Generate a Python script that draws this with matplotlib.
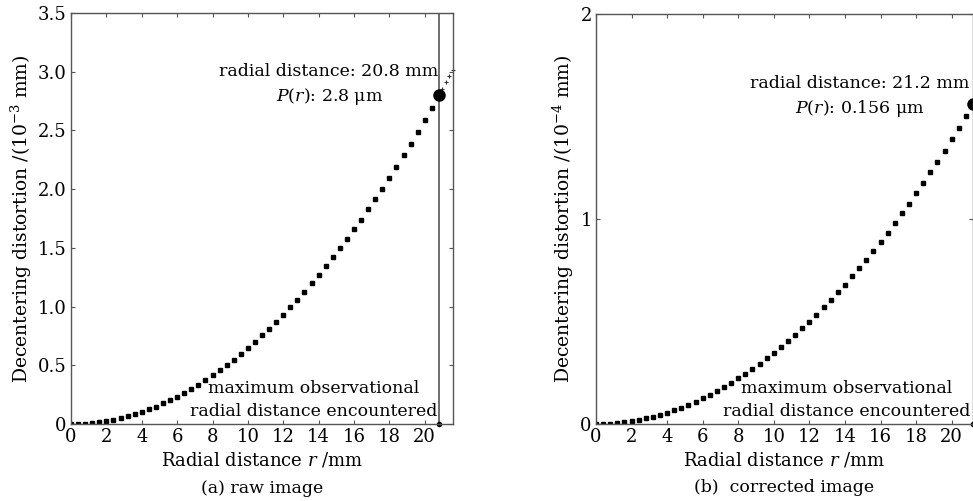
import matplotlib
matplotlib.use("Agg")
import matplotlib.pyplot as plt

plt.rcParams['font.family'] = ['DejaVu Serif']
plt.rcParams['mathtext.fontset'] = 'dejavuserif'

# ---- data (a) raw image, units 1e-3 mm ----
r_a = [0.0, 0.4, 0.8, 1.2, 1.6, 2.0, 2.4, 2.8, 3.2, 3.6, 4.0, 4.4, 4.8, 5.2, 5.6,
       6.0, 6.4, 6.8, 7.2, 7.6, 8.0, 8.4, 8.8, 9.2, 9.6, 10.0, 10.4, 10.8, 11.2,
       11.6, 12.0, 12.4, 12.8, 13.2, 13.6, 14.0, 14.4, 14.8, 15.2, 15.6, 16.0,
       16.4, 16.8, 17.2, 17.6, 18.0, 18.4, 18.8, 19.2, 19.6, 20.0, 20.4, 20.8]
p_a = [0.000, 0.001, 0.004, 0.009, 0.017, 0.026, 0.037, 0.051, 0.066, 0.084,
       0.104, 0.125, 0.149, 0.175, 0.203, 0.233, 0.265, 0.299, 0.336, 0.374,
       0.414, 0.457, 0.501, 0.548, 0.596, 0.647, 0.700, 0.755, 0.812, 0.871,
       0.932, 0.995, 1.060, 1.128, 1.197, 1.268, 1.342, 1.418, 1.495, 1.575,
       1.657, 1.741, 1.827, 1.915, 2.005, 2.097, 2.191, 2.287, 2.386, 2.486,
       2.589, 2.693, 2.800]
r_a_ext = [21.0, 21.2, 21.4, 21.6]
p_a_ext = [2.854, 2.909, 2.964, 3.019]
r_a_max = 20.8
p_a_max = 2.8

# ---- data (b) corrected image, units 1e-4 mm ----
r_b = list(r_a)
p_b = [0.000, 0.001, 0.002, 0.005, 0.009, 0.014, 0.020, 0.027, 0.036, 0.045,
       0.056, 0.067, 0.080, 0.094, 0.109, 0.125, 0.142, 0.160, 0.180, 0.200,
       0.222, 0.245, 0.269, 0.294, 0.320, 0.347, 0.375, 0.405, 0.435, 0.467,
       0.500, 0.534, 0.569, 0.605, 0.642, 0.680, 0.720, 0.760, 0.802, 0.845,
       0.889, 0.934, 0.980, 1.027, 1.075, 1.125, 1.175, 1.227, 1.280, 1.333,
       1.388, 1.445, 1.502]
r_b_max = 21.2
p_b_max = 1.56

xticks = [0, 2, 4, 6, 8, 10, 12, 14, 16, 18, 20]
yticks_a = [0, 0.5, 1.0, 1.5, 2.0, 2.5, 3.0, 3.5]
yticks_a_lbl = ['0', '0.5', '1.0', '1.5', '2.0', '2.5', '3.0', '3.5']
yticks_b = [0, 1, 2]
yticks_b_lbl = ['0', '1', '2']

FS = 12.5
LFS = 13.5
SPINE = '#555555'
LS = 1.4

fig = plt.figure(figsize=(9.73, 5.01), dpi=100)
ax1 = fig.add_axes([0.073, 0.1537, 0.3926, 0.8203])
ax2 = fig.add_axes([0.6125, 0.1537, 0.3875, 0.8183])

def style(ax):
    for s in ax.spines.values():
        s.set_color(SPINE)
        s.set_linewidth(1.0)
    ax.tick_params(direction='in', length=3, width=0.8, color=SPINE,
                   top=True, right=True, labelsize=FS + 0.5, pad=3)

# panel (a)
ax1.plot(r_a, p_a, linestyle='none', marker='s', markersize=3.0, color='black')
ax1.plot(r_a_ext, p_a_ext, linestyle='none', marker='+', markersize=3.5,
         markeredgewidth=0.8, color='#333333', clip_on=False)
ax1.axvline(r_a_max, color=SPINE, linewidth=1.2)
ax1.plot([r_a_max], [p_a_max], marker='o', markersize=8, color='black')
ax1.plot([r_a_max], [0], marker='o', markersize=3, color='black', clip_on=False)
ax1.set_xlim(0, 21.6)
ax1.set_ylim(0, 3.5)
ax1.set_xticks(xticks)
ax1.set_yticks(yticks_a)
ax1.set_yticklabels(yticks_a_lbl)
style(ax1)
ax1.set_ylabel('Decentering distortion /(10$^{-3}$ mm)', fontsize=LFS, labelpad=3)
ax1.set_xlabel('Radial distance $r$ /mm', fontsize=13, labelpad=3)
ax1.text(0.5, -0.156, '(a) raw image', transform=ax1.transAxes,
         ha='center', va='center', fontsize=FS)
ax1.text(14.59, 2.89, 'radial distance: 20.8 mm\n$P(r)$: 2.8 μm', ha='center',
         va='center', fontsize=FS, linespacing=LS)
ax1.text(13.72, 0.204, 'maximum observational\nradial distance encountered',
         ha='center', va='center', fontsize=FS, linespacing=LS)

# panel (b)
ax2.plot(r_b, p_b, linestyle='none', marker='s', markersize=3.0, color='black')
ax2.plot([r_b_max], [p_b_max], marker='o', markersize=8, color='black', clip_on=False)
ax2.plot([r_b_max], [0], marker='o', markersize=3, color='black', clip_on=False)
ax2.set_xlim(0, 21.2)
ax2.set_ylim(0, 2)
ax2.set_xticks(xticks)
ax2.set_yticks(yticks_b)
ax2.set_yticklabels(yticks_b_lbl)
style(ax2)
ax2.set_ylabel('Decentering distortion /(10$^{-4}$ mm)', fontsize=LFS, labelpad=3)
ax2.set_xlabel('Radial distance $r$ /mm', fontsize=13, labelpad=3)
ax2.text(0.5, -0.156, '(b)  corrected image', transform=ax2.transAxes,
         ha='center', va='center', fontsize=FS)
ax2.text(14.82, 1.597, 'radial distance: 21.2 mm\n$P(r)$: 0.156 μm', ha='center',
         va='center', fontsize=FS, linespacing=LS)
ax2.text(14.08, 0.117, 'maximum observational\nradial distance encountered',
         ha='center', va='center', fontsize=FS, linespacing=LS)

fig.savefig('out.png', dpi=100, facecolor='white')
